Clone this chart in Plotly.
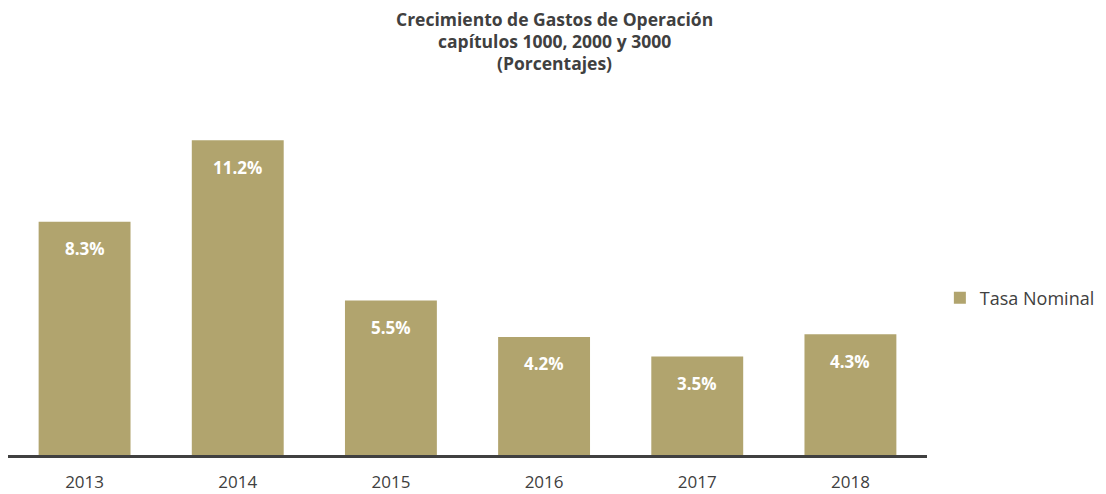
import plotly.graph_objects as go

#--------------------- Data
years = ['2013', '2014', '2015', '2016', '2017', '2018']
tasa_nominal = [8.3, 11.2, 5.5, 4.2, 3.5, 4.3]
labels = [f'{v:.1f}%' for v in tasa_nominal]
title_lines = ['Crecimiento de Gastos de Operación',
               'capítulos 1000, 2000 y 3000',
               '(Porcentajes)']

BAR = '#B1A46E'
TXT = '#404040'
FONT = 'Open Sans'

fig = go.Figure()
fig.add_trace(go.Bar(
    x=years, y=tasa_nominal, name='Tasa Nominal',
    marker=dict(color=BAR, line=dict(width=0)),
    width=0.6, hoverinfo='x+y'))

# value labels inside near the top of each bar (x = category index)
for i, (v, lab) in enumerate(zip(tasa_nominal, labels)):
    fig.add_annotation(
        x=i, y=v, text=f'<b>{lab}</b>', showarrow=False,
        yshift=-27, yanchor='middle',
        font=dict(family=FONT, size=17, color='white'))

# title, one annotation per line (centred on the page)
for i, line in enumerate(title_lines):
    fig.add_annotation(
        xref='paper', yref='paper', x=0.595, y=1.0,
        yshift=81 - 22 * i, yanchor='middle', xanchor='center',
        text=f'<b>{line}</b>', showarrow=False, borderpad=0,
        font=dict(family=FONT, size=17.5, color=TXT))

fig.update_xaxes(
    type='category', range=[-0.5, 5.5],
    showline=True, linewidth=3, linecolor=TXT,
    ticks='outside', ticklen=10, tickcolor='rgba(0,0,0,0)',
    tickfont=dict(family=FONT, size=17, color=TXT),
    showgrid=False)
fig.update_yaxes(
    range=[0, 12.63], visible=False, showgrid=False, zeroline=False)

# the page body adds an 8px offset, so margins are shifted up/left by 8px
fig.update_layout(
    width=1106, height=494,
    margin=dict(l=0, r=187, t=92, b=47, autoexpand=False),
    plot_bgcolor='white', paper_bgcolor='white',
    showlegend=True,
    legend=dict(
        x=1.014, xanchor='left', y=0.442, yanchor='middle',
        font=dict(family=FONT, size=18, color=TXT)),
    font=dict(family=FONT, color=TXT))

fig.write_html('out.html')
